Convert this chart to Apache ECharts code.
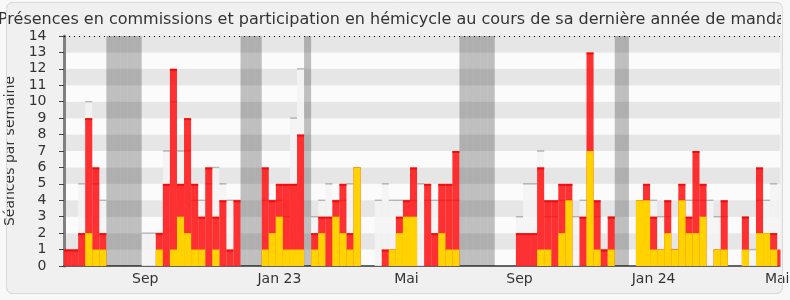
<!DOCTYPE html>
<html>
<head>
<meta charset="utf-8">
<script src="https://cdn.jsdelivr.net/npm/echarts@6/dist/echarts.min.js"></script>
<style>
html,body{margin:0;padding:0;background:#f8f8f8;}
#c{width:790px;height:300px;}
</style>
</head>
<body>
<div id="c"></div>
<script>
// Weekly values (index = week from start of period)
const redTotal = [1,1,2,9,6,2,0,0,0,0, 0,0,0,2,5,12,5,9,5,3, 6,3,4,1,4,0,0,0,6,4,
  5,5,5,8,0,2,3,3,4,5, 2,6,0,0,0,1,1,3,4,6, 0,5,2,5,5,7,0,0,0,0,
  0,0,0,0,2,2,2,6,4,4, 5,5,0,3,13,4,1,3,0,0, 0,4,5,3,1,4,1,5,3,7,
  5,0,1,4,0,0,3,0,6,2, 2,1];
const yellowPart = [0,0,0,2,1,1,0,0,0,0, 0,0,0,1,0,1,3,2,1,1, 0,1,0,0,0,0,0,0,1,2,
  3,1,1,1,0,1,2,0,3,2, 1,6,0,0,0,0,1,2,3,3, 0,0,0,2,1,1,0,0,0,0,
  0,0,0,0,0,0,0,1,1,0, 2,4,0,0,7,1,0,1,0,0, 0,4,4,1,1,2,1,4,2,2,
  3,0,1,1,0,0,1,0,2,2, 1,0];
const medianAll = [1,1,5,10,5,4,0,0,0,0, 0,2,2,2,7,10,7,7,4,4, 5,6,5,4,4,0,0,0,4,4,
  4,3,9,12,0,3,4,5,4,4, 5,4,0,0,4,5,4,4,4,4, 5,4,4,4,4,4,0,0,0,0,
  0,0,0,0,3,5,5,7,3,3, 4,4,3,4,4,3,1,3,0,0, 0,3,4,4,3,3,1,4,4,4,
  4,4,3,3,0,0,3,1,4,4, 5,5];
const vacationWeeks = [6,7,8,9,10,25,26,27,34,56,57,58,59,60,78,79];
const vacationHeight = 14;
const xLabelPos = [11.5, 30.5, 48.5, 64.5, 83.5, 101];
const xLabelText = ['Sep', 'Jan 23', 'Mai', 'Sep', 'Jan 24', 'Mai'];
const yTickMax = 14;

const FONT = 'DejaVu Sans';
const xy = arr => arr.map((v, i) => [i + 0.5, v]);
const xyTop = arr => arr.map((v, i) => [i + 0.5, v > 0 ? v : '-']);

const chart = echarts.init(document.getElementById('c'), null, {renderer: 'canvas'});
chart.setOption({
  animation: false,
  backgroundColor: 'transparent',
  graphic: [
    {
      type: 'rect', z: -10, silent: true,
      shape: {x: 6.5, y: 2.5, width: 776, height: 291, r: 6},
      style: {fill: '#f0f0f0', stroke: '#dadada', lineWidth: 1}
    },
    {
      type: 'rect', z: 100, silent: true,
      shape: {x: 781, y: 0, width: 9, height: 34},
      style: {fill: '#f8f8f8'}
    },
    {
      type: 'rect', z: 100, silent: true,
      shape: {x: 780.5, y: 34, width: 2.5, height: 236},
      style: {fill: '#f0f0f0'}
    },
    {
      type: 'rect', z: 100, silent: true,
      shape: {x: 783, y: 34, width: 7, height: 236},
      style: {fill: '#f8f8f8'}
    },
    {
      type: 'rect', z: 101, silent: true,
      shape: {x: 6.5, y: 2.5, width: 776, height: 291, r: 6},
      style: {fill: null, stroke: '#dadada', lineWidth: 1}
    }
  ],
  title: {
    text: 'Présences en commissions et participation en hémicycle au cours de sa dernière année de mandat',
    left: -7, top: 7,
    textStyle: {fontFamily: FONT, fontSize: 16, fontWeight: 'normal', color: '#333'}
  },
  grid: {left: 64, right: 10, top: 36, bottom: 34, containLabel: false, outerBoundsMode: 'none'},
  xAxis: {
    type: 'value', min: 0, max: 101.4, interval: 0.5,
    axisLine: {show: true, onZero: false, lineStyle: {color: '#333', width: 1.5}},
    axisTick: {show: false},
    splitLine: {show: false},
    axisLabel: {
      fontFamily: FONT, fontSize: 14, color: '#333', margin: 6,
      showMinLabel: true, showMaxLabel: true,
      formatter: v => {
        for (let k = 0; k < xLabelPos.length; k++) {
          if (Math.abs(v - xLabelPos[k]) < 0.01) return xLabelText[k];
        }
        return '';
      }
    }
  },
  yAxis: {
    type: 'value', min: 0, max: yTickMax, interval: 1, offset: 1.5,
    name: 'Séances par semaine', nameLocation: 'middle', nameGap: 44,
    nameTextStyle: {fontFamily: FONT, fontSize: 14, color: '#333'},
    axisLine: {show: true, lineStyle: {color: '#808080', width: 3}},
    axisTick: {show: true, length: 5, lineStyle: {color: '#444'}},
    axisLabel: {fontFamily: FONT, fontSize: 14, color: '#333', margin: 16},
    splitLine: {show: false},
    splitArea: {show: true, areaStyle: {color: ['#fbfbfb', '#e6e6e6']}}
  },
  series: [
    {
      name: 'median', type: 'bar', data: xy(medianAll), barWidth: '100%', barGap: '-100%', z: 1, clip: true,
      itemStyle: {color: 'rgba(243,243,243,0.85)'},
      markLine: {
        silent: true, symbol: 'none', label: {show: false},
        lineStyle: {color: '#000', type: [1, 4], width: 1},
        data: [{yAxis: yTickMax}]
      }
    },
    {
      name: 'medianTop', type: 'scatter', data: xyTop(medianAll), symbol: 'rect', clip: true,
      symbolSize: [7.1, 1.5], z: 2, itemStyle: {color: 'rgba(0,0,0,0.3)'}
    },
    {
      name: 'red', type: 'bar', data: xy(redTotal), barWidth: '100%', barGap: '-100%', z: 3, clip: true,
      itemStyle: {color: 'rgba(255,0,0,0.8)'}
    },
    {
      name: 'redTop', type: 'scatter', data: xyTop(redTotal), symbol: 'rect', clip: true,
      symbolSize: [7.1, 2], symbolOffset: [0, 1], z: 4, itemStyle: {color: 'rgba(235,0,0,0.9)'}
    },
    {
      name: 'yellow', type: 'bar', data: xy(yellowPart), barWidth: '100%', barGap: '-100%', z: 5, clip: true,
      itemStyle: {color: '#ffd200'}
    },
    {
      name: 'vacances', type: 'bar', data: vacationWeeks.map(w => [w + 0.5, vacationHeight]),
      barWidth: '100%', barGap: '-100%', z: 6, clip: true,
      itemStyle: {color: 'rgba(0,0,0,0.24)'}
    }
  ]
});
</script>
</body>
</html>
